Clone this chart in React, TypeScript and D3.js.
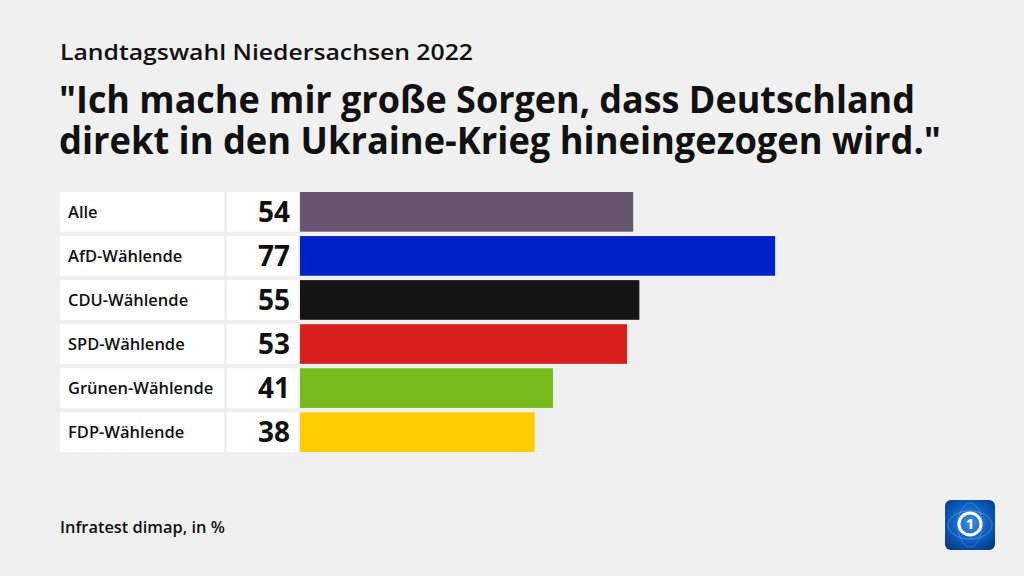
import React from "react";
import * as d3 from "d3";

const categories = ["Alle", "AfD-Wählende", "CDU-Wählende", "SPD-Wählende", "Grünen-Wählende", "FDP-Wählende"];
const values = [54, 77, 55, 53, 41, 38];
const colors = ["#67546f", "#0021c7", "#141414", "#d8201f", "#78bc1b", "#ffcc00"];

const subtitle = "Landtagswahl Niedersachsen 2022";
const titleLines = ["\"Ich mache mir große Sorgen, dass Deutschland", "direkt in den Ukraine-Krieg hineingezogen wird.\""];
const titleWidths = [856, 882];
const source = "Infratest dimap, in %";

const W = 1024;
const H = 576;
const FONT = "'Open Sans', 'Noto Sans', sans-serif";

export default function App() {
  const x = d3.scaleLinear().domain([0, 100]).range([300, 917]);
  const y = d3.scaleBand().domain(categories).range([192, 452]).paddingInner(0.1).paddingOuter(0);
  const bh = y.bandwidth();
  return (
    <svg width={W} height={H} style={{ position: "absolute", left: 0, top: 0, display: "block" }}>
      <defs>
        <radialGradient id="lg" cx="0.5" cy="0.45" r="0.7">
          <stop offset="0" stopColor="#3d8fe0" />
          <stop offset="0.6" stopColor="#0a58b8" />
          <stop offset="1" stopColor="#06367e" />
        </radialGradient>
      </defs>
      <rect x={0} y={0} width={W} height={H} fill="#f0f0f0" />
      <text x={60} y={60} fontFamily={FONT} fontWeight={600} fontSize={22} fill="#111" textLength={413} lengthAdjust="spacingAndGlyphs">{subtitle}</text>
      <text fontFamily={FONT} fontWeight={700} fontSize={37} fill="#111">
        {titleLines.map((t, i) => (
          <tspan key={i} x={59} y={113 + i * 41} textLength={titleWidths[i]} lengthAdjust="spacingAndGlyphs">{t}</tspan>
        ))}
      </text>
      {categories.map((c, i) => {
        const yy = y(c)!;
        return (
          <g key={c}>
            <rect x={60} y={yy} width={164} height={bh} fill="#ffffff" />
            <rect x={227} y={yy} width={71} height={bh} fill="#ffffff" />
            <rect x={x(0)} y={yy} width={x(values[i]) - x(0)} height={bh} fill={colors[i]} />
            <text x={68} y={yy + bh / 2} dy="0.35em" fontFamily={FONT} fontWeight={600} fontSize={16.5} fill="#111">{c}</text>
            <text x={290} y={yy + bh / 2} dy="0.36em" textAnchor="end" fontFamily={FONT} fontWeight={700} fontSize={28} fill="#111">{values[i]}</text>
          </g>
        );
      })}
      <text x={60} y={533} fontFamily={FONT} fontWeight={600} fontSize={16.4} fill="#111">{source}</text>
      <g transform="translate(945,500)">
        <rect x={0} y={0} width={50} height={50} rx={6} fill="url(#lg)" />
        <ellipse cx={25} cy={25} rx={22} ry={14} fill="none" stroke="#6fb3f0" strokeWidth={1} opacity={0.5} />
        <ellipse cx={25} cy={25} rx={12} ry={22} fill="none" stroke="#6fb3f0" strokeWidth={1} opacity={0.4} />
        <circle cx={25} cy={24} r={11} fill="none" stroke="#ffffff" strokeWidth={3} />
        <text x={25} y={24} dy="0.36em" textAnchor="middle" fontFamily={FONT} fontWeight={700} fontSize={15} fill="#ffffff">1</text>
      </g>
    </svg>
  );
}
